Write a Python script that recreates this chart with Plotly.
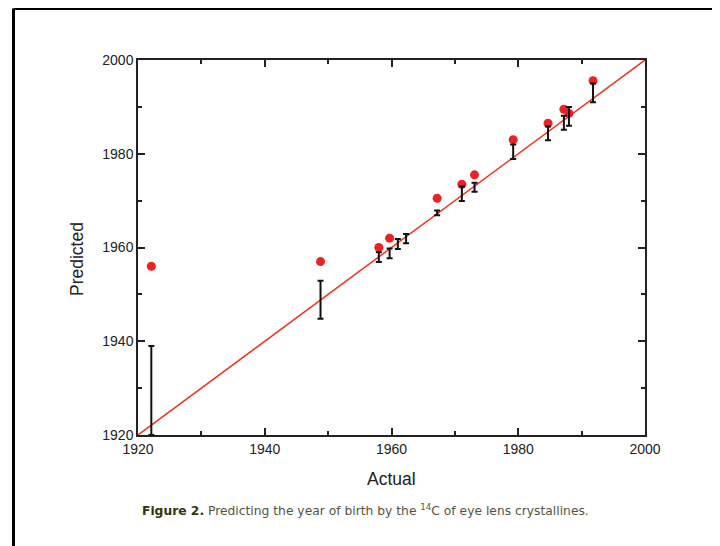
import numpy as np
import plotly.graph_objects as go

# ---- data ----
actual = [1922.1, 1948.8, 1958.0, 1959.7, 1961.0, 1962.3, 1967.2,
          1971.1, 1973.1, 1979.2, 1984.7, 1987.2, 1988.0, 1991.8]
predicted_red = [1956.0, 1957.0, 1960.0, 1962.0, None, None, 1970.5,
                 1973.5, 1975.5, 1983.0, 1986.5, 1989.5, 1988.6, 1995.6]
bar_low = [1920.0, 1944.8, 1956.9, 1957.7, 1959.7, 1960.9, 1966.9,
           1969.9, 1971.9, 1978.9, 1982.9, 1985.1, 1986.0, 1991.0]
bar_high = [1939.0, 1952.9, 1959.0, 1959.8, 1961.8, 1962.9, 1967.9,
            1973.0, 1973.8, 1982.0, 1985.8, 1988.1, 1990.0, 1995.0]
identity = [1920, 2000]
x_ticks = [1920, 1940, 1960, 1980, 2000]
y_ticks = [1920, 1940, 1960, 1980, 2000]

low = np.array(bar_low)
high = np.array(bar_high)
center = (low + high) / 2

fig = go.Figure()

fig.add_trace(go.Scatter(
    x=identity, y=identity, mode="lines",
    line=dict(color="#ee3322", width=1.5), hoverinfo="skip"))

fig.add_trace(go.Scatter(
    x=actual, y=predicted_red, mode="markers",
    marker=dict(color="#ee2222", size=9, line=dict(width=0))))

fig.add_trace(go.Scatter(
    x=actual, y=center, mode="markers",
    marker=dict(color="rgba(0,0,0,0)", size=1),
    error_y=dict(type="data", symmetric=False,
                 array=high - center, arrayminus=center - low,
                 color="#111111", thickness=2, width=3)))

FONT = "Liberation Sans, Arial, sans-serif"
axis_common = dict(
    showline=True, linecolor="#222222", linewidth=1.5, mirror="ticks",
    ticks="inside", ticklen=7, tickwidth=1.5, tickcolor="#222222",
    showgrid=False, zeroline=False,
    tickfont=dict(family=FONT, size=14, color="#222222"),
    minor=dict(ticks="inside", ticklen=4, tickwidth=1.5, tickcolor="#222222",
               dtick=10, showgrid=False),
)

fig.update_xaxes(range=[1920, 2000], tickvals=x_ticks, **axis_common)
fig.update_yaxes(range=[1920, 2000], tickvals=y_ticks, **axis_common)

# page body has an 8px margin; work in window pixels and shift
OFF = 8
FW, FH = 720, 546
L, R, T, B = 138 - OFF, 645 - OFF, 60 - OFF, 435 - OFF
W, H = R - L, B - T
def px(x):
    return (x - OFF - L) / W
def py(y):
    return (B - (y - OFF)) / H

annotations = [
    dict(text="Actual", x=px(391.5), y=py(479), xref="paper", yref="paper",
         showarrow=False, xanchor="center", yanchor="middle",
         font=dict(family=FONT, size=17.5, color="#222222")),
    dict(text="Predicted", x=px(77), y=py(259), xref="paper", yref="paper",
         showarrow=False, xanchor="center", yanchor="middle", textangle=-90,
         font=dict(family=FONT, size=17.5, color="#222222")),
    dict(text="<b><span style='color:#33330f'>Figure 2.</span></b> Predicting the year of birth by the <sup>14</sup>C of eye lens crystallines.",
         x=px(140), y=py(510), xref="paper", yref="paper",
         showarrow=False, xanchor="left", yanchor="middle",
         font=dict(family="DejaVu Sans, Verdana, sans-serif", size=12.3, color="#55553f")),
]

shapes = [
    dict(type="line", xref="paper", yref="paper",
         x0=px(13.5), x1=px(740), y0=py(8.5), y1=py(8.5),
         line=dict(color="black", width=3)),
    dict(type="line", xref="paper", yref="paper",
         x0=px(13.5), x1=px(13.5), y0=py(8.5), y1=py(570),
         line=dict(color="black", width=3)),
]

fig.update_layout(
    width=FW, height=FH,
    margin=dict(l=L, r=FW - R, t=T, b=FH - B),
    paper_bgcolor="white", plot_bgcolor="white",
    showlegend=False,
    annotations=annotations, shapes=shapes,
)

fig.write_html("out.html")
